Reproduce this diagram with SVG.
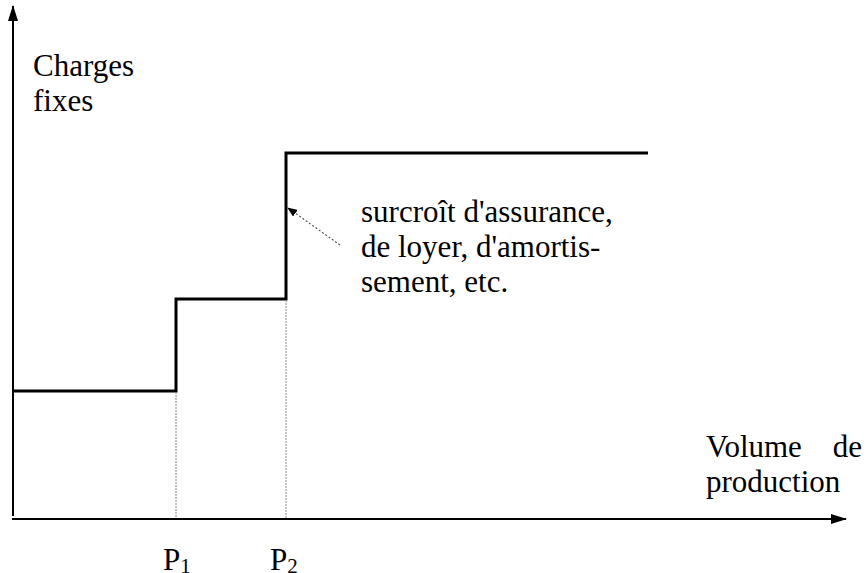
<svg xmlns="http://www.w3.org/2000/svg" width="866" height="573" viewBox="0 0 866 573">
<defs>
<style>
.t{font-family:"Liberation Serif","Times New Roman",serif;font-size:31px;fill:#000}
.sub{font-size:21px}
.axis{stroke:#000;stroke-width:2;fill:none}
.step{stroke:#000;stroke-width:3;fill:none}
.guide{stroke:#888;stroke-width:1;stroke-dasharray:2,1;fill:none}
.note{stroke:#555;stroke-width:1.2;stroke-dasharray:2,2;fill:none}
</style>
<marker id="ah" markerWidth="10" markerHeight="8" refX="9" refY="4" orient="auto" markerUnits="userSpaceOnUse"><path d="M0,0 L10,4 L0,8 z" fill="#000"/></marker>
<marker id="axh" markerWidth="16" markerHeight="10" refX="15" refY="5" orient="auto" markerUnits="userSpaceOnUse"><path d="M0,0 L16,5 L0,10 z" fill="#000"/></marker>
</defs>
<rect width="866" height="573" fill="#fff"/>
<g id="connectors">
<line class="axis" x1="13" y1="516" x2="13" y2="6" marker-end="url(#axh)"/>
<line class="axis" x1="12" y1="519" x2="846" y2="519" marker-end="url(#axh)"/>
<polyline class="step" points="13,391 176,391 176,299 286,299 286,153 648,153"/>
<line class="guide" x1="176" y1="392" x2="176" y2="518"/>
<line class="guide" x1="286" y1="300" x2="286" y2="518"/>
<line class="note" x1="340" y1="245" x2="288" y2="208" marker-end="url(#ah)"/>
</g>
<g id="ylabel"><text class="t" x="33" y="76">Charges</text><text class="t" x="33" y="111">fixes</text></g>
<g id="xlabel"><text class="t" x="706" y="457">Volume</text><text class="t" x="862" y="457" text-anchor="end">de</text><text class="t" x="706" y="492">production</text></g>
<g id="note"><text class="t" x="361" y="222">surcroît d'assurance,</text><text class="t" x="361" y="257">de loyer, d'amortis-</text><text class="t" x="361" y="292">sement, etc.</text></g>
<g id="p1"><text class="t" x="163" y="570">P<tspan class="sub" dy="3">1</tspan></text></g>
<g id="p2"><text class="t" x="270" y="570">P<tspan class="sub" dy="3">2</tspan></text></g>
</svg>
